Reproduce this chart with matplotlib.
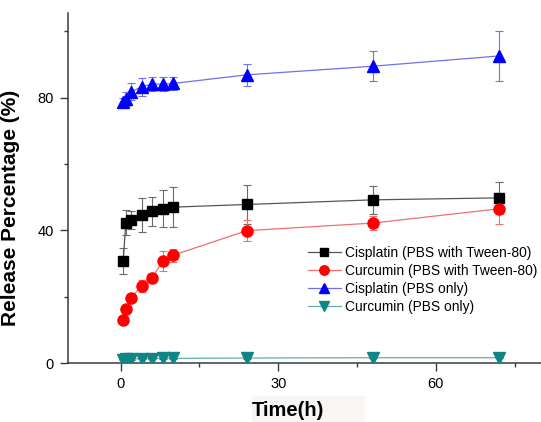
import numpy as np
import matplotlib.pyplot as plt
from matplotlib.patches import Rectangle

plt.rcParams['font.family'] = ['Liberation Sans', 'DejaVu Sans']

# sampling times (h)
time_h = [0.5, 1, 2, 4, 6, 8, 10, 24, 48, 72]

# cisplatin, PBS with Tween-80
cis_tween = [30.7, 42.3, 43.1, 44.6, 45.8, 46.5, 47.0, 47.8, 49.2, 49.8]
cis_tween_err = [4.0, 3.8, 2.7, 5.2, 4.4, 5.6, 6.1, 5.8, 4.2, 4.9]

# curcumin, PBS with Tween-80
cur_tween = [13.1, 16.2, 19.7, 23.2, 25.6, 30.8, 32.5, 39.9, 42.2, 46.5]
cur_tween_err = [0.5, 0.6, 0.7, 1.8, 1.5, 3.0, 2.0, 3.2, 2.1, 4.5]

# cisplatin, PBS only
cis_pbs = [78.8, 79.6, 81.8, 83.3, 84.1, 84.1, 84.3, 86.9, 89.5, 92.6]
cis_pbs_err = [1.0, 2.0, 2.5, 2.7, 2.0, 2.0, 2.0, 3.3, 4.6, 7.5]

# curcumin, PBS only
cur_pbs = [1.0, 1.1, 1.2, 1.3, 1.3, 1.4, 1.4, 1.5, 1.6, 1.6]
cur_pbs_err = [0.2, 0.2, 0.2, 0.2, 0.2, 0.2, 0.2, 0.2, 0.2, 0.2]

# label, values, errors, marker, marker colour, line colour, error colour, size
series = [
    ("Cisplatin (PBS with Tween-80)", cis_tween, cis_tween_err, "s", "black", "#555555", "#6a6a6a", 7),
    ("Curcumin (PBS with Tween-80)", cur_tween, cur_tween_err, "o", "red", "#f07070", "#f07070", 8),
    ("Cisplatin (PBS only)", cis_pbs, cis_pbs_err, "^", "blue", "#7070f0", "#7070f0", 8),
    ("Curcumin (PBS only)", cur_pbs, cur_pbs_err, "v", "#108585", "#60b0b0", "#108585", 8),
]

fig = plt.figure(figsize=(5.41, 4.22), dpi=100)
ax = fig.add_axes([0.1257, 0.1398, 0.8743, 0.829])

for label, y, err, mk, col, lcol, ecol, ms in series:
    ax.errorbar(time_h, y, yerr=err, fmt='none', ecolor=ecol, elinewidth=0.8,
                capsize=3, capthick=0.8, zorder=2)
    ax.plot(time_h, y, '-', color=lcol, lw=0.9, marker=mk, ms=ms,
            mec=col, mfc=col, label=label, zorder=3)

ax.set_xlim(-10, 80)
ax.set_ylim(0, 105.5)
ax.set_xticks([0, 30, 60])
ax.set_xticks([15, 45, 75], minor=True)
ax.set_yticks([0, 40, 80])
ax.set_yticks([20, 60, 100], minor=True)

for s in ['top', 'right']:
    ax.spines[s].set_visible(False)
for s in ['left', 'bottom']:
    ax.spines[s].set_color('#3a3a3a')
    ax.spines[s].set_linewidth(1.1)
ax.tick_params(which='major', length=6, width=1, color='#3a3a3a', labelsize=10.5, pad=4)
ax.tick_params(which='minor', length=3, width=1, color='#3a3a3a')

ax.set_ylabel("Release Percentage (%)", fontsize=15, fontweight='bold')
ax.yaxis.set_label_coords(-0.1015, 0.444)

# faint background box behind the x label
fig.patches.append(Rectangle((252 / 541, 0), 113 / 541, 26 / 422,
                             transform=fig.transFigure, facecolor='#f8f6f4',
                             edgecolor='none', zorder=0))
fig.text(288 / 541, 11 / 422, "Time(h)", fontsize=14.5, fontweight='bold',
         ha='center', va='center')

ax.legend(loc='upper left', bbox_to_anchor=(0.569, 0.4165),
          bbox_transform=fig.transFigure, frameon=False, fontsize=9.9,
          borderpad=0, borderaxespad=0, handlelength=2.4, handletextpad=0.3,
          labelspacing=0.28, markerscale=0.85)

fig.savefig("out.png", dpi=100)
